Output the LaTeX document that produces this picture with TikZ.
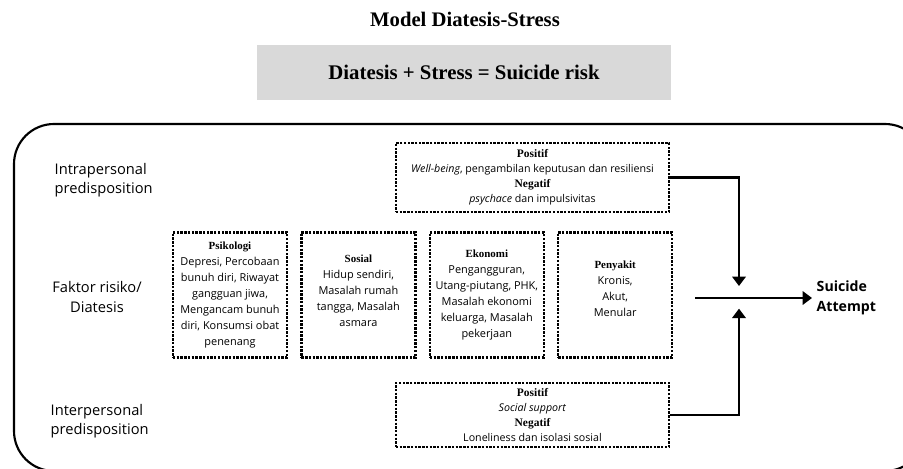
\documentclass[tikz,border=0pt]{standalone}
\usepackage{fontspec}
\setmainfont{Liberation Serif}
\setsansfont{Open Sans}
\usepackage{xcolor}
\usetikzlibrary{arrows.meta, positioning}
\definecolor{banner}{HTML}{D9D9D9}

\begin{document}
\begin{tikzpicture}[x=0.75pt, y=-0.75pt,
    riskbox/.style={draw, densely dotted, line width=1.8pt, minimum width=85.5pt, minimum height=94pt, align=center, inner sep=1pt, font=\sffamily\fontsize{8.2}{12}\selectfont},
    predbox/.style={draw, densely dotted, line width=1.8pt, minimum width=204.75pt, align=center, inner sep=1pt, font=\sffamily\fontsize{8}{11.2}\selectfont},
    sidelabel/.style={font=\sffamily\fontsize{11}{14.5}\selectfont},
    flow/.style={line width=2.2pt, -{Triangle[width=10pt, length=7pt]}}
  ]

    \useasboundingbox (0,0) rectangle (903,468);
    \clip (0,0) rectangle (903,468);

    % title and banner
    \node[font=\rmfamily\bfseries\fontsize{15.5}{18}\selectfont] (judul) at (465,19) {Model Diatesis-Stress};
    \node[fill=banner, minimum width=310.5pt, minimum height=41.25pt, font=\rmfamily\bfseries\fontsize{15.6}{18}\selectfont] (rumus) at (464,72) {Diatesis + Stress = Suicide risk};

    % outer frame
    \draw[line width=1.6pt, rounded corners=30pt] (14,124) rectangle (925,471);

    % row labels
    \node[sidelabel, align=left, anchor=west] (intra) at (50,180) {Intrapersonal\\predisposition};
    \node[sidelabel, align=center] (faktor) at (97,297) {Faktor risiko/\\Diatesis};
    \node[sidelabel, align=left, anchor=west] (inter) at (46,421) {Interpersonal\\predisposition};

    % predisposition boxes
    \node[predbox, minimum height=51.75pt] (intrabox) at (532.5,177.5) {%
      {\rmfamily\bfseries\fontsize{8.6}{11.2}\selectfont Positif}\\
      \textit{Well-being}, pengambilan keputusan dan resiliensi\\
      {\rmfamily\bfseries\fontsize{8.6}{11.2}\selectfont Negatif}\\
      \textit{psychace} dan impulsivitas};
    \node[predbox, minimum height=48pt] (interbox) at (532.5,415) {%
      {\rmfamily\bfseries\fontsize{8.6}{11.2}\selectfont Positif}\\
      \textit{Social support}\\
      {\rmfamily\bfseries\fontsize{8.6}{11.2}\selectfont Negatif}\\
      Loneliness dan isolasi sosial};

    % risk factor boxes
    \node[riskbox] (psikologi) at (230,295) {%
      {\rmfamily\bfseries Psikologi}\\
      Depresi, Percobaan\\bunuh diri, Riwayat\\gangguan jiwa,\\Mengancam bunuh\\diri, Konsumsi obat\\penenang};
    \node[riskbox, right=9pt of psikologi] (sosial) {%
      {\rmfamily\bfseries Sosial}\\
      Hidup sendiri,\\Masalah rumah\\tangga, Masalah\\asmara\\[-6pt]};
    \node[riskbox, right=9pt of sosial] (ekonomi) {%
      {\rmfamily\bfseries Ekonomi}\\
      Pengangguran,\\Utang-piutang, PHK,\\Masalah ekonomi\\keluarga, Masalah\\pekerjaan};
    \node[riskbox, right=9pt of ekonomi] (penyakit) {%
      {\rmfamily\bfseries Penyakit}\\
      Kronis,\\Akut,\\Menular\\[-2pt]};

    % outcome
    \node[font=\sffamily\bfseries\fontsize{10.6}{15}\selectfont, align=left, anchor=west] (attempt) at (812,298) {Suicide\\Attempt};
    \coordinate (awal) at (695,298);
    \coordinate (temu) at (739,298);

    \draw[flow] (awal) -- (attempt.west);
    \draw[flow] (intrabox.east) -| ([yshift=9pt]temu);
    \draw[flow] (interbox.east) -| ([yshift=-8pt]temu);

  \end{tikzpicture}
\end{document}
